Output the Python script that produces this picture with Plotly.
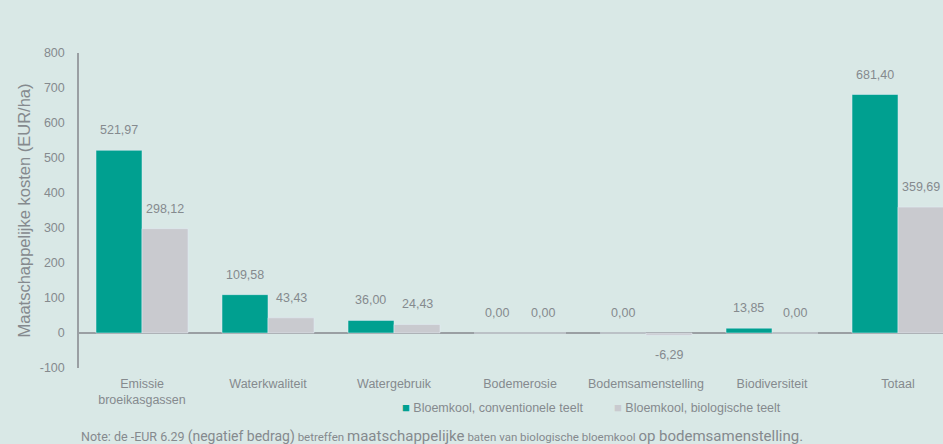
import plotly.graph_objects as go

categories = ["Emissie<br>broeikasgassen", "Waterkwaliteit", "Watergebruik", "Bodemerosie",
              "Bodemsamenstelling", "Biodiversiteit", "Totaal"]
conventioneel = [521.97, 109.58, 36.00, 0.00, 0.00, 13.85, 681.40]
biologisch = [298.12, 43.43, 24.43, 0.00, -6.29, 0.00, 359.69]
series_names = ["Bloemkool, conventionele teelt", "Bloemkool, biologische teelt"]
y_ticks = [-100, 0, 100, 200, 300, 400, 500, 600, 700, 800]
y_ticktext = ["-100", "0", "100", "200", "300", "400", "500", "600", "700", "800"]

teal = "#00a090"
grey = "#c9cacf"
bg = "#d9e8e6"
txt = "#858a8e"

fig = go.Figure()
fig.add_trace(go.Bar(x=categories, y=conventioneel, name=series_names[0], marker_color=teal,
                     showlegend=False))
fig.add_trace(go.Bar(x=categories, y=biologisch, name=series_names[1], marker_color=grey,
                     showlegend=False))

def fmt(v):
    return f"{v:.2f}".replace(".", ",")

for vals, off in ((conventioneel, -0.183), (biologisch, 0.183)):
    for i, v in enumerate(vals):
        fig.add_annotation(x=i + off, y=v if v < 0 else max(v, 0), xref="x", yref="y",
                           text=fmt(v), showarrow=False,
                           yshift=20 if v >= 0 else -20,
                           font=dict(size=12.5, color=txt, family="Liberation Sans, Arial"))

# custom legend
legend_font = dict(size=12.5, color=txt, family="Liberation Sans, Arial")
for name, col, xpos in ((series_names[0], teal, 0.371), (series_names[1], grey, 0.617)):
    fig.add_annotation(x=xpos, y=-0.125, xref="paper", yref="paper", xanchor="left", yanchor="middle",
                       text=f"<span style='color:{col};font-size:13px'>■</span> {name}",
                       showarrow=False, font=legend_font)

note = ("<span style='font-size:12.5px'>Note: de -EUR 6.29 </span>"
        "<span style='font-size:14px'>(negatief bedrag)</span>"
        "<span style='font-size:11.5px'> betreffen </span>"
        "<span style='font-size:15px'>maatschappelijke</span>"
        "<span style='font-size:11.5px'> baten van biologische bloemkool </span>"
        "<span style='font-size:15px'>op bodemsamenstelling.</span>")
fig.add_annotation(x=0.0, y=-0.215, xref="paper", yref="paper", xanchor="left", yanchor="middle",
                   text=note, showarrow=False,
                   font=dict(size=12, color=txt, family="Liberation Sans Narrow, Roboto, Arial"))

fig.update_layout(
    width=943, height=444,
    margin=dict(l=79, r=0, t=53, b=76),
    paper_bgcolor=bg, plot_bgcolor=bg,
    barmode="group", bargap=0.27, bargroupgap=0,
    font=dict(family="Liberation Sans, Arial", color=txt, size=12),
    showlegend=False,
)
fig.update_xaxes(range=[-0.5, 6.357], showgrid=False, showline=False, ticks="",
                 ticklabelstandoff=6,
                 tickfont=dict(size=12.5, color=txt))
fig.update_yaxes(range=[-100, 800], tickvals=y_ticks, ticktext=y_ticktext, showgrid=False,
                 showline=True, linecolor="#9a9fa3", linewidth=1.5,
                 zeroline=True, zerolinecolor="#9a9fa3", zerolinewidth=1.5,
                 ticks="", ticklabelstandoff=10,
                 tickfont=dict(size=12.5, color=txt),
                 title=dict(text="Maatschappelijke kosten (EUR/ha)", standoff=5,
                            font=dict(size=16.5, color=txt)))

fig.write_html("out.html")
